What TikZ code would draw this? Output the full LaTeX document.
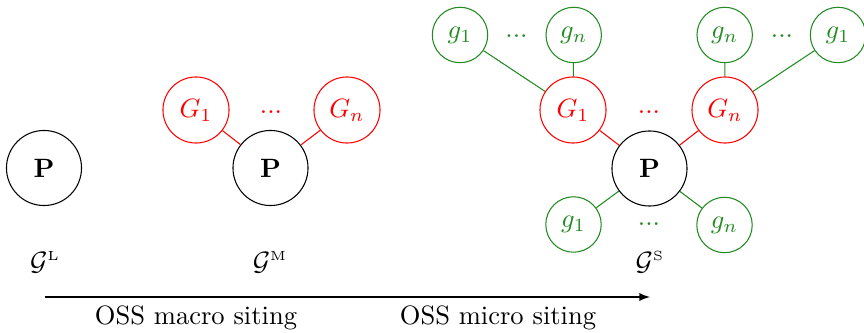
\documentclass[tikz,border=0pt]{standalone}
\usepackage{amsmath}
\definecolor{fgreen}{RGB}{34,139,34}
\begin{document}
\begin{tikzpicture}[x=0.377pt,y=-0.377pt,
  pnode/.style={circle,draw=black,thin,minimum size=28.3pt,inner sep=0pt,font=\bfseries},
  Gnode/.style={circle,draw=red,text=red,thin,minimum size=24.9pt,inner sep=0pt},
  gnode/.style={circle,draw=fgreen,text=fgreen,thin,minimum size=20.9pt,inner sep=0pt},
  redline/.style={draw=red,thin},
  greenline/.style={draw=fgreen,thin},
  dotsnode/.style={inner sep=0pt,anchor=base}]
\useasboundingbox (0,0) rectangle (864,333);
% left graph
\node[pnode] (pL) at (44,168) {P};
\node (lL) at (45,262) {$\mathcal{G}^{\scriptscriptstyle\mathrm{L}}$};
% middle graph
\node[pnode] (pM) at (270.5,168) {P};
\node[Gnode] (GM1) at (196,110) {$G_1$};
\node[Gnode] (GMn) at (347,110) {$G_n$};
\node[dotsnode,text=red] (dM) at (271,113.2) {...};
\draw[redline] (pM) -- (GM1);
\draw[redline] (pM) -- (GMn);
\node (lM) at (270,262) {$\mathcal{G}^{\scriptscriptstyle\mathrm{M}}$};
% right graph
\node[pnode] (pS) at (649.5,168.5) {P};
\node[Gnode] (GS1) at (573,110) {$G_1$};
\node[Gnode] (GSn) at (725,110) {$G_n$};
\node[dotsnode,text=red] (dS) at (649,113.2) {...};
\node[gnode] (ga) at (460,35) {$g_1$};
\node[gnode] (gb) at (573.7,35) {$g_n$};
\node[dotsnode,text=fgreen] (dga) at (516.5,37.2) {...};
\node[gnode] (gc) at (724.7,35) {$g_n$};
\node[gnode] (gd) at (838,35) {$g_1$};
\node[dotsnode,text=fgreen] (dgb) at (782,37.2) {...};
\node[gnode] (ge) at (573.5,224.5) {$g_1$};
\node[gnode] (gf) at (724.5,225) {$g_n$};
\node[dotsnode,text=fgreen] (dgc) at (649,225.8) {...};
\draw[redline] (pS) -- (GS1);
\draw[redline] (pS) -- (GSn);
\draw[greenline] (GS1) -- (ga);
\draw[greenline] (GS1) -- (gb);
\draw[greenline] (GSn) -- (gc);
\draw[greenline] (GSn) -- (gd);
\draw[greenline] (pS) -- (ge);
\draw[greenline] (pS) -- (gf);
\node (lS) at (650,262) {$\mathcal{G}^{\scriptscriptstyle\mathrm{S}}$};
% arrow
\coordinate (aS) at (45,297);
\coordinate (aE) at (650,297);
\draw[-latex,thin] (aS) -- (aE);
\node (t1) at (196,318) {OSS macro siting};
\node (t2) at (498,318) {OSS micro siting};
\end{tikzpicture}
\end{document}
